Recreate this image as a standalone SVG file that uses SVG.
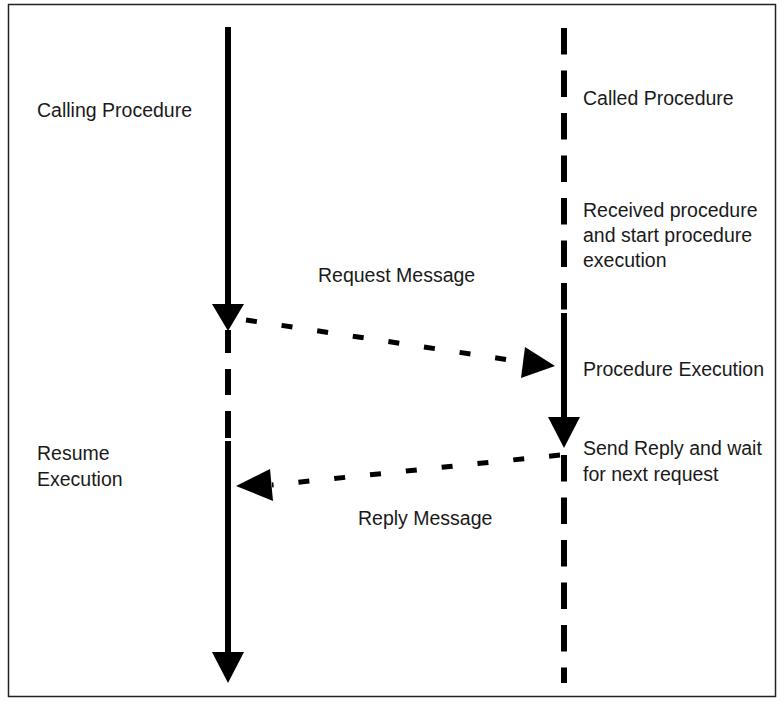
<svg xmlns="http://www.w3.org/2000/svg" width="784" height="704" viewBox="0 0 784 704">
<style>
text{font-family:"Liberation Sans",Arial,sans-serif;font-size:19.5px;fill:#1a1a1a}
.v{stroke:#000;stroke-width:6;fill:none}
.d{stroke:#000;stroke-width:5;fill:none;stroke-dasharray:11 25}
.h{fill:#000}
</style>
<rect x="8.5" y="4.5" width="767" height="692" fill="#fff" stroke="#222" stroke-width="1.5"/>
<g id="calling-lifeline">
<line class="v" x1="228" y1="27" x2="228" y2="306"/>
<polygon class="h" points="212,304 244,304 228,331"/>
<line class="v" x1="228" y1="330" x2="228" y2="353"/>
<line class="v" x1="228" y1="369" x2="228" y2="395"/>
<line class="v" x1="228" y1="411" x2="228" y2="438"/>
<line class="v" x1="228" y1="441" x2="228" y2="654"/>
<polygon class="h" points="212,652 244,652 228,683"/>
<text x="37" y="117">Calling Procedure</text>
<text x="37" y="460">Resume</text>
<text x="37" y="486">Execution</text>
</g>
<g id="called-lifeline">
<line class="v" x1="564" y1="28" x2="564" y2="310" stroke-dasharray="26.5 16"/>
<line class="v" x1="564" y1="313" x2="564" y2="420"/>
<polygon class="h" points="548,417 580,417 564,448"/>
<line class="v" x1="564" y1="455" x2="564" y2="683" stroke-dasharray="26.5 16"/>
<text x="583" y="105">Called Procedure</text>
<text x="583" y="217">Received procedure</text>
<text x="583" y="242">and start procedure</text>
<text x="583" y="267">execution</text>
<text x="583" y="376">Procedure Execution</text>
<text x="583" y="455">Send Reply and wait</text>
<text x="583" y="481">for next request</text>
</g>
<g id="connectors">
<line class="d" x1="246" y1="320" x2="523" y2="362"/>
<polygon class="h" points="525,347 521,378 555,366"/>
<text x="318" y="282">Request Message</text>
<line class="d" x1="560" y1="455" x2="272" y2="485"/>
<polygon class="h" points="270,469 273,501 236,486"/>
<text x="358" y="525">Reply Message</text>
</g>
</svg>
